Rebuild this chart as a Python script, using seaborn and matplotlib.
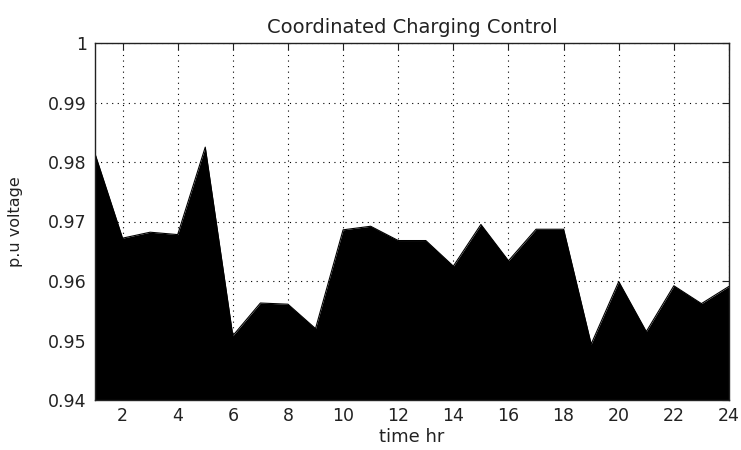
import numpy as np
import pandas as pd
import matplotlib
matplotlib.use('Agg')
import matplotlib.pyplot as plt
import seaborn as sns

# hourly p.u. voltage
hours = list(range(1, 25))
voltage = [0.9814, 0.9672, 0.9682, 0.9678, 0.9825, 0.9508, 0.9563, 0.9561,
           0.9520, 0.9686, 0.9692, 0.9668, 0.9668, 0.9625, 0.9695, 0.9634,
           0.9687, 0.9687, 0.9494, 0.9599, 0.9515, 0.9592, 0.9562, 0.9591]
xticks = list(range(2, 25, 2))
yticks = [0.94, 0.95, 0.96, 0.97, 0.98, 0.99, 1.0]
ytick_labels = ['0.94', '0.95', '0.96', '0.97', '0.98', '0.99', '1']

df = pd.DataFrame({'hour': hours, 'voltage': voltage})

sns.set_style('white')
plt.rcParams['font.family'] = ['DejaVu Sans']

fig = plt.figure(figsize=(7.41, 4.5), dpi=100)
ax = fig.add_axes([95 / 741, 50 / 450, 634 / 741, 357 / 450])

sns.lineplot(data=df, x='hour', y='voltage', color='black', linewidth=0.8, ax=ax)
ax.fill_between(df['hour'], 0.94, df['voltage'], color='black', linewidth=0, zorder=2)

ax.set_xlim(1, 24)
ax.set_ylim(0.94, 1.0)
ax.set_xticks(xticks)
ax.set_yticks(yticks)
ax.set_yticklabels(ytick_labels)
ax.grid(True, color='black', linestyle=(0, (1, 4)), linewidth=0.8, zorder=1)
ax.set_axisbelow(True)
ax.tick_params(direction='in', length=5, top=True, right=True, labelsize=12.5,
               colors='#222222', width=0.8)
ax.tick_params(axis='x', pad=5)
ax.tick_params(axis='y', pad=6)
for s in ax.spines.values():
    s.set_color('#222222')
    s.set_linewidth(1.0)
    s.set_zorder(5)

ax.set_title('Coordinated Charging Control', fontsize=14, pad=7, color='#222222')
ax.set_xlabel('time hr', fontsize=13, labelpad=2, color='#222222')
ax.set_ylabel('p.u voltage', fontsize=11.5, labelpad=18, color='#222222')

fig.savefig('out.png', dpi=100)
